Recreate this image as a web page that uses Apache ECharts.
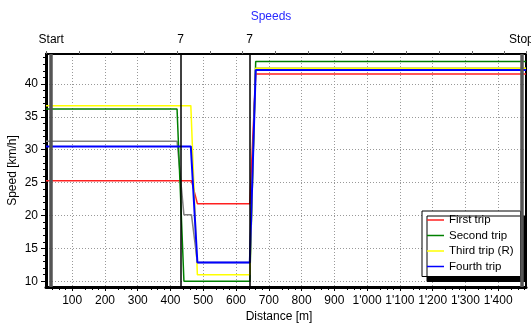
<!DOCTYPE html>
<html>
<head>
  <meta charset="UTF-8">
  <title>Speeds</title>
  <script src="https://cdn.jsdelivr.net/npm/echarts@6/dist/echarts.min.js"></script>
  <style>
    * { margin: 0; padding: 0; }
    body { background: #fff; }
    #chart { width: 531px; height: 324px; }
  </style>
</head>
<body>
<div id="chart"></div>
<script>
// distance [m] / speed [km/h] per trip
const firstDist   = [20, 464, 482, 642, 660, 1485];
const firstSpeed  = [25.3, 25.3, 21.8, 21.8, 41.5, 41.5];
const secondDist  = [20, 420, 441, 642, 660, 1485];
const secondSpeed = [36.2, 36.2, 10.0, 10.0, 43.4, 43.4];
const thirdDist   = [20, 462, 482, 642, 660, 1485];
const thirdSpeed  = [36.7, 36.7, 11.0, 11.0, 42.4, 42.4];
const fourthDist  = [20, 462, 482, 642, 660, 1485];
const fourthSpeed = [30.5, 30.5, 12.85, 12.85, 42.1, 42.1];
// grey reference trace (not in legend)
const refDist  = [20, 420, 441, 464, 482, 642, 660, 1485];
const refSpeed = [31.3, 31.3, 20.1, 20.1, 12.85, 12.85, 42.4, 42.4];

const stationDist  = [36, 431, 641, 1471];
const stationNames = ['Start', '7', '7', 'Stop'];

// tick positions
const xMajor = [100, 200, 300, 400, 500, 600, 700, 800, 900, 1000, 1100, 1200, 1300, 1400];
const yMajor = [10, 15, 20, 25, 30, 35, 40];
const yMinor = Array.from({ length: 35 }, (_, i) => 10 + i);

const X_MIN = 20, X_MAX = 1485, Y_MIN = 9.13, Y_MAX = 44.55;

const font = '"Liberation Sans", Arial, sans-serif';
const zip = (xs, ys) => xs.map((x, i) => [x, ys[i]]);
const fmtDist = v => v >= 1000 ? Math.floor(v / 1000) + "'" + String(v % 1000).padStart(3, '0') : String(v);

function trip(name, xs, ys, color, width) {
  return {
    name: name, type: 'line', data: zip(xs, ys),
    symbol: 'none', showSymbol: false, animation: false,
    lineStyle: { color: color, width: width || 1.5 },
    itemStyle: { color: color }
  };
}

const ref = trip('ref', refDist, refSpeed, '#808080');
ref.markLine = {
  silent: true, symbol: 'none', label: { show: false }, animation: false,
  data: stationDist.map((d, i) => ({
    xAxis: d,
    lineStyle: (i === 0 || i === 3)
      ? { color: '#555', width: 3.5, type: 'solid' }
      : { color: '#000', width: 1.5, type: 'solid' }
  }))
};

const dotted = { show: true, lineStyle: { color: '#999', type: [1, 2], width: 1 } };

const chart = echarts.init(document.getElementById('chart'));
chart.setOption({
  animation: false,
  title: {
    text: 'Speeds', left: 266, top: 6, textAlign: 'center',
    textStyle: { color: '#2a2aff', fontSize: 12, fontWeight: 'normal', fontFamily: font }
  },
  grid: {
    left: 46, right: 5, top: 54, bottom: 37,
    containLabel: false, outerBoundsMode: 'none',
    show: true, borderColor: '#000', borderWidth: 2, backgroundColor: '#fff'
  },
  legend: {
    orient: 'vertical', left: 422, top: 211,
    data: ['First trip', 'Second trip', 'Third trip (R)', 'Fourth trip'],
    icon: 'rect', itemWidth: 17, itemHeight: 1.5, itemGap: 3.5,
    padding: [3, 7, 4, 5],
    backgroundColor: '#fff', borderColor: '#000', borderWidth: 1,
    shadowColor: '#000', shadowBlur: 0, shadowOffsetX: 5, shadowOffsetY: 5,
    textStyle: { fontSize: 11.5, color: '#000', fontFamily: font, lineHeight: 12 }
  },
  xAxis: [{
    type: 'value', min: X_MIN, max: X_MAX, interval: 100,
    name: 'Distance [m]', nameLocation: 'middle', nameGap: 24, nameMoveOverlap: false,
    nameTextStyle: { fontSize: 12, color: '#000', fontFamily: font, padding: [0, 14, 0, 0] },
    axisLine: { onZero: false, lineStyle: { color: '#000', width: 3 } },
    axisTick: { customValues: xMajor, length: 4, lineStyle: { color: '#000' } },
    minorTick: { show: true, splitNumber: 5, length: 3, lineStyle: { color: '#000' } },
    axisLabel: { customValues: xMajor, margin: 8, fontSize: 12, color: '#000', fontFamily: font, formatter: fmtDist },
    splitLine: dotted
  }, {
    type: 'value', position: 'top', min: X_MIN, max: X_MAX, interval: 100,
    axisLine: { onZero: false, lineStyle: { color: '#000', width: 2 } },
    axisTick: { length: 3, lineStyle: { color: '#666' } },
    axisLabel: {
      customValues: stationDist, margin: 8, fontSize: 12, color: '#000', fontFamily: font,
      formatter: v => stationNames[stationDist.indexOf(v)] || ''
    },
    splitLine: { show: false }
  }],
  yAxis: [{
    type: 'value', min: Y_MIN, max: Y_MAX,
    name: 'Speed [km/h]', nameLocation: 'middle', nameGap: 27, nameMoveOverlap: false,
    nameTextStyle: { fontSize: 12, color: '#000', fontFamily: font },
    axisLine: { show: true, onZero: false, lineStyle: { color: '#000', width: 3 } },
    axisTick: { show: true, customValues: yMajor, length: 5, lineStyle: { color: '#000' } },
    axisLabel: { customValues: yMajor, margin: 8, fontSize: 12, color: '#000', fontFamily: font },
    splitLine: dotted
  }, {
    type: 'value', position: 'left', min: Y_MIN, max: Y_MAX,
    axisLine: { show: false },
    axisTick: { show: true, customValues: yMinor, length: 3, lineStyle: { color: '#000' } },
    axisLabel: { show: false },
    splitLine: { show: false }
  }],
  series: [
    ref,
    trip('First trip', firstDist, firstSpeed, '#ff2020'),
    trip('Second trip', secondDist, secondSpeed, '#008000'),
    trip('Third trip (R)', thirdDist, thirdSpeed, '#ffff00'),
    trip('Fourth trip', fourthDist, fourthSpeed, '#0000ff', 2)
  ]
});
</script>
</body>
</html>
